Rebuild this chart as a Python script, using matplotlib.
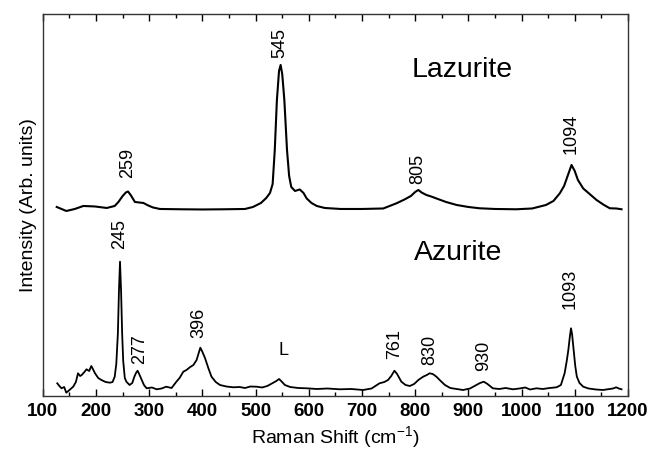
import matplotlib.pyplot as plt

plt.rcParams['font.family'] = ['Liberation Sans', 'DejaVu Sans']
plt.rcParams['mathtext.fontset'] = 'custom'
plt.rcParams['mathtext.rm'] = 'Liberation Sans'

# Lazurite spectrum (upper trace)
laz_x = [126, 144, 160, 176, 198, 220, 235, 242, 250, 256, 260, 265, 273, 281, 289, 298, 307, 320,
         360, 400, 440, 480, 495, 510, 520, 527, 532, 536, 540, 544, 547, 550, 554, 559, 563, 567,
         574, 583, 590, 596, 605, 615, 630, 660, 700, 740, 765, 780, 792, 800, 806, 812, 821, 830,
         840, 858, 878, 900, 921, 950, 990, 1020, 1046, 1060, 1072, 1080, 1088, 1094, 1100, 1106,
         1116, 1128, 1141, 1155, 1166, 1178, 1188]
laz_y = [189, 185, 187, 190, 189.5, 188, 190, 194, 200, 203.5, 204.5, 201, 194, 193.5, 193, 190.5,
         188.5, 187, 186.7, 186.5, 186.7, 187, 189, 193, 198, 203, 212, 246, 296, 325, 331, 322,
         296, 246, 220, 209, 205, 206.5, 203, 197.5, 193, 190, 188, 187, 187, 187.5, 192.7, 196.5,
         200, 204, 206, 203.5, 201, 199.5, 197.5, 194, 191, 189, 187.7, 187, 186.7, 187.5, 191,
         195, 202.7, 210, 222, 231, 225, 216, 207.5, 202, 196, 191, 187.7, 187.5, 186.7]

# Azurite spectrum (lower trace)
azu_x = [127, 131, 135, 140, 144, 150, 157, 162, 166, 170, 173, 178, 182, 187, 191, 194, 198, 204,
         210, 218, 226, 231, 235, 238, 241, 243, 245, 247, 249, 251, 254, 257, 263, 268, 272, 275,
         278, 281, 286, 290, 295, 305, 314, 323, 332, 342, 351, 357, 364, 370, 377, 383, 389, 393,
         396, 400, 405, 411, 417, 425, 433, 445, 458, 470, 480, 490, 502, 512, 522, 533, 539, 544,
         548, 555, 565, 580, 596, 615, 635, 658, 680, 702, 718, 733, 742, 749, 755, 761, 766, 774,
         782, 790, 798, 806, 815, 822, 827, 833, 840, 848, 856, 866, 878, 890, 903, 915, 922, 929,
         936, 946, 958, 970, 984, 996, 1007, 1016, 1028, 1040, 1053, 1066, 1074, 1081, 1085, 1088,
         1091, 1093, 1095, 1098, 1101, 1104, 1109, 1116, 1126, 1140, 1153, 1165, 1172, 1178, 1183,
         1188]
azu_y = [12.7, 10, 7.7, 9, 3.3, 6, 9.3, 14, 22.7, 20, 21, 24, 26.7, 25, 30, 27, 22.7, 18, 16, 14,
         13.3, 14, 19.3, 32, 62.7, 105, 134.3, 105, 62.7, 35, 18, 14.3, 11, 13, 19.3, 23, 25.3, 22,
         16, 11, 7.7, 8.5, 6.7, 7.5, 9.3, 8, 14.3, 18, 24.3, 26, 29, 31, 36, 43, 48.3, 44, 37.7,
         28, 19.3, 14, 11, 9.5, 8.7, 9, 8, 9.5, 9.3, 8.5, 10, 13.3, 15, 17, 15, 11, 9, 8, 7.7, 7,
         7.5, 6.7, 7, 6, 7.5, 12.7, 14, 16, 20, 25.3, 22, 14.3, 11, 10, 12, 16, 19.3, 21, 22.7, 22,
         19.3, 15, 11, 8, 7, 6, 7.5, 11, 13, 14.3, 12, 7.7, 7, 8, 6.7, 7.5, 8.5, 6.5, 7.7, 7, 8,
         8.7, 11, 22.7, 35, 46, 60, 67.7, 62, 46, 30, 19.3, 13, 9.3, 7.5, 6.5, 6, 7, 7.5, 8.7, 7.5,
         6.7]

# peak labels (rotated)
laz_peaks = [259, 545, 805, 1094]
laz_lab_y = [218, 338, 212, 242]
azu_peaks = [245, 277, 396, 761, 830, 930, 1093]
azu_lab_x = [245, 281, 394, 761, 827, 929, 1092]
azu_lab_y = [147, 32, 58, 37, 31, 25, 87]

fig = plt.figure(figsize=(6.5, 4.5), dpi=100)
ax = fig.add_axes([0.066, 0.12, 0.9, 0.849])

ax.plot(laz_x, laz_y, color="black", lw=1.5)
ax.plot(azu_x, azu_y, color="black", lw=1.3)

for p, yl in zip(laz_peaks, laz_lab_y):
    ax.text(p, yl, str(p), rotation=90, ha="center", va="bottom", fontsize=13)
for p, xl, yl in zip(azu_peaks, azu_lab_x, azu_lab_y):
    ax.text(xl, yl, str(p), rotation=90, ha="center", va="bottom", fontsize=13)
ax.text(552, 37, "L", ha="center", va="bottom", fontsize=13)

ax.text(888, 326, "Lazurite", ha="center", va="center", fontsize=20.5)
ax.text(881, 143, "Azurite", ha="center", va="center", fontsize=20.5)

ax.set_xlim(100, 1200)
ax.set_ylim(0, 382)
ax.set_xticks(range(100, 1201, 100))
ax.set_xticks(range(150, 1200, 100), minor=True)
ax.set_yticks([])
ax.tick_params(axis="x", which="both", direction="in", top=True, bottom=True, labelsize=13.5, pad=5)
ax.tick_params(axis="x", which="major", length=5, width=1)
ax.tick_params(axis="x", which="minor", length=3, width=1)
for lab in ax.get_xticklabels():
    lab.set_fontweight("bold")
for s in ax.spines.values():
    s.set_linewidth(1.0)
    s.set_color("#333333")

ax.set_xlabel("Raman Shift (cm$^{\\mathregular{-1}}$)", fontsize=14, labelpad=3)
ax.set_ylabel("Intensity (Arb. units)", fontsize=14, labelpad=4)

plt.savefig("out.png")
